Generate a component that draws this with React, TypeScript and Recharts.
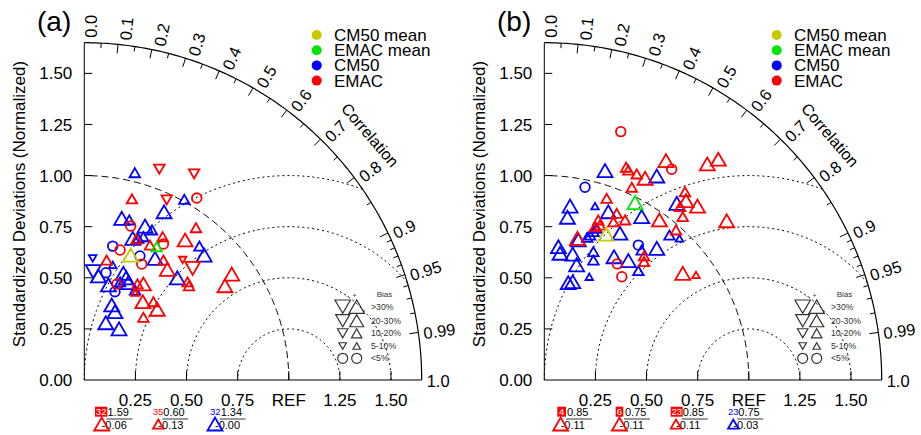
import React from 'react';
import { ScatterChart, Scatter, XAxis, YAxis } from 'recharts';

const FONT = '"Liberation Sans", Arial, Helvetica, sans-serif';
const RMAX = 1.65;
const RED = '#ff0000';
const BLUE = '#0000ff';
const YEL = '#c9c900';
const GRN = '#00e600';

type Pt = [number, number, string, string]; // x, y, marker (u/d/o), size (L/M/S/C)

// ---------- panel (a) ----------
const aCM50: Pt[] = [
  [0.247, 1.014, 'u', 'M'], [0.489, 0.884, 'u', 'M'], [0.39, 0.823, 'u', 'L'], [0.183, 0.791, 'u', 'L'],
  [0.22, 0.783, 'u', 'M'], [0.297, 0.753, 'u', 'L'], [0.331, 0.734, 'u', 'M'], [0.237, 0.693, 'u', 'L'],
  [0.264, 0.693, 'u', 'M'], [0.289, 0.701, 'u', 'M'], [0.139, 0.655, 'o', 'C'], [0.272, 0.607, 'o', 'C'],
  [0.346, 0.595, 'u', 'L'], [0.563, 0.655, 'u', 'M'], [0.586, 0.611, 'u', 'L'], [0.455, 0.5, 'u', 'L'],
  [0.041, 0.595, 'd', 'S'], [0.044, 0.53, 'd', 'L'], [0.069, 0.509, 'u', 'L'], [0.106, 0.525, 'o', 'C'],
  [0.139, 0.563, 'u', 'S'], [0.118, 0.465, 'u', 'L'], [0.15, 0.432, 'o', 'C'], [0.191, 0.522, 'u', 'L'],
  [0.215, 0.476, 'u', 'L'], [0.248, 0.44, 'u', 'M'], [0.175, 0.48, 'u', 'M'], [0.205, 0.5, 'u', 'L'],
  [0.134, 0.367, 'u', 'L'], [0.15, 0.334, 'u', 'L'], [0.105, 0.28, 'u', 'L'], [0.17, 0.25, 'u', 'L'],
];
const aEMAC: Pt[] = [
  [0.367, 1.031, 'd', 'M'], [0.537, 1.008, 'd', 'M'], [0.233, 0.886, 'u', 'M'], [0.403, 0.881, 'd', 'M'],
  [0.55, 0.89, 'o', 'C'], [0.227, 0.753, 'o', 'C'], [0.546, 0.745, 'u', 'M'], [0.255, 0.69, 'u', 'M'],
  [0.383, 0.701, 'u', 'M'], [0.493, 0.685, 'u', 'L'], [0.321, 0.66, 'u', 'M'], [0.387, 0.665, 'o', 'C'],
  [0.175, 0.636, 'o', 'C'], [0.281, 0.567, 'o', 'C'], [0.387, 0.587, 'u', 'M'], [0.406, 0.541, 'u', 'L'],
  [0.481, 0.587, 'd', 'S'], [0.53, 0.546, 'd', 'L'], [0.721, 0.518, 'u', 'L'], [0.688, 0.461, 'u', 'L'],
  [0.512, 0.461, 'u', 'M'], [0.505, 0.48, 'u', 'M'], [0.109, 0.587, 'u', 'M'], [0.16, 0.47, 'o', 'C'],
  [0.248, 0.427, 'u', 'S'], [0.289, 0.47, 'u', 'L'], [0.26, 0.47, 'u', 'M'], [0.286, 0.383, 'u', 'L'],
  [0.338, 0.383, 'u', 'M'], [0.357, 0.346, 'u', 'L'], [0.289, 0.307, 'u', 'M'],
];
const aCM50Mean: Pt[] = [[0.227, 0.611, 'u', 'L']];
const aEMACMean: Pt[] = [[0.354, 0.652, 'u', 'M']];

// ---------- panel (b) ----------
const bCM50: Pt[] = [
  [0.297, 1.024, 'u', 'L'], [0.55, 0.998, 'u', 'L'], [0.199, 0.943, 'o', 'C'], [0.648, 0.864, 'u', 'L'],
  [0.126, 0.851, 'u', 'L'], [0.248, 0.851, 'u', 'S'], [0.313, 0.823, 'u', 'L'], [0.113, 0.796, 'u', 'L'],
  [0.476, 0.799, 'u', 'L'], [0.224, 0.709, 'u', 'M'], [0.241, 0.726, 'u', 'M'], [0.256, 0.742, 'u', 'M'],
  [0.21, 0.698, 'u', 'M'], [0.166, 0.685, 'u', 'L'], [0.37, 0.718, 'u', 'L'], [0.612, 0.709, 'u', 'M'],
  [0.661, 0.693, 'u', 'S'], [0.069, 0.652, 'u', 'L'], [0.077, 0.62, 'u', 'L'], [0.139, 0.616, 'u', 'L'],
  [0.24, 0.628, 'u', 'M'], [0.24, 0.587, 'u', 'M'], [0.158, 0.563, 'u', 'L'], [0.341, 0.603, 'u', 'L'],
  [0.411, 0.584, 'u', 'L'], [0.46, 0.66, 'o', 'C'], [0.476, 0.636, 'u', 'M'], [0.55, 0.644, 'u', 'L'],
  [0.46, 0.535, 'u', 'M'], [0.22, 0.505, 'u', 'S'], [0.117, 0.476, 'u', 'L'], [0.139, 0.481, 'u', 'L'],
];
const bEMAC: Pt[] = [
  [0.374, 1.215, 'o', 'C'], [0.595, 1.073, 'u', 'L'], [0.623, 1.031, 'o', 'C'], [0.797, 1.057, 'u', 'L'],
  [0.851, 1.08, 'u', 'L'], [0.4, 1.041, 'u', 'M'], [0.411, 1.027, 'u', 'M'], [0.452, 1.008, 'u', 'M'],
  [0.493, 0.987, 'u', 'L'], [0.428, 0.943, 'u', 'M'], [0.688, 0.921, 'u', 'M'], [0.693, 0.877, 'u', 'L'],
  [0.749, 0.851, 'u', 'L'], [0.664, 0.848, 'u', 'M'], [0.677, 0.799, 'u', 'M'], [0.892, 0.779, 'u', 'L'],
  [0.305, 0.889, 'u', 'M'], [0.354, 0.815, 'u', 'M'], [0.395, 0.783, 'u', 'M'], [0.338, 0.774, 'u', 'M'],
  [0.563, 0.783, 'u', 'L'], [0.264, 0.783, 'u', 'M'], [0.248, 0.75, 'u', 'M'], [0.272, 0.758, 'u', 'M'],
  [0.162, 0.693, 'u', 'L'], [0.644, 0.734, 'u', 'M'], [0.488, 0.607, 'u', 'M'], [0.488, 0.579, 'u', 'M'],
  [0.357, 0.568, 'o', 'C'], [0.379, 0.505, 'o', 'C'], [0.677, 0.522, 'u', 'L'], [0.742, 0.514, 'u', 'S'],
];
const bCM50Mean: Pt[] = [[0.302, 0.714, 'u', 'L']];
const bEMACMean: Pt[] = [[0.444, 0.868, 'u', 'L']];

// ---------- axes / labels ----------
const xTickVals = [0.25, 0.5, 0.75, 1, 1.25, 1.5];
const xTickLabels = ['0.25', '0.50', '0.75', 'REF', '1.25', '1.50'];
const yTickVals = [0, 0.25, 0.5, 0.75, 1, 1.25, 1.5];
const corrLabelVals = [0, 0.1, 0.2, 0.3, 0.4, 0.5, 0.6, 0.7, 0.8, 0.9, 0.95, 0.99, 1];
const corrLabelText = ['0.0', '0.1', '0.2', '0.3', '0.4', '0.5', '0.6', '0.7', '0.8', '0.9', '0.95', '0.99', '1.0'];
const corrMajor = [0.1, 0.2, 0.3, 0.4, 0.5, 0.6, 0.7, 0.8, 0.9, 0.95, 0.99];
const corrMinor = [0.05, 0.15, 0.25, 0.35, 0.45, 0.55, 0.65, 0.75, 0.85, 0.91, 0.92, 0.93, 0.94, 0.96, 0.97, 0.98];
const rmsRadii = [0.25, 0.5, 0.75, 1.0];
const legendNames = ['CM50 mean', 'EMAC mean', 'CM50', 'EMAC'];
const legendColors = [YEL, GRN, BLUE, RED];
const biasRows = ['>30%', '20-30%', '10-20%', '5-10%', '<5%'];
const biasSizes = [15.5, 14, 10.5, 7.5, 10];

type Note = { bx: number; bw: number; label: string; boxed: boolean; color: string; top: string; topX: number; bot: string; triX: number; size: string };
const aNotes: Note[] = [
  { bx: 95, bw: 12.3, label: '32', boxed: true, color: RED, top: '1.59', topX: 107.5, bot: '-0.06', triX: 101.7, size: 'L' },
  { bx: 152.7, bw: 10.6, label: '35', boxed: false, color: RED, top: '0.60', topX: 163.3, bot: '-0.13', triX: 158.3, size: 'M' },
  { bx: 210, bw: 10.6, label: '32', boxed: false, color: BLUE, top: '1.34', topX: 220.7, bot: '-0.00', triX: 215, size: 'L' },
];
const bNotes: Note[] = [
  { bx: 97.3, bw: 8.7, label: '4', boxed: true, color: RED, top: '0.85', topX: 107, bot: '-0.11', triX: 100.7, size: 'L' },
  { bx: 155.7, bw: 7.6, label: '6', boxed: true, color: RED, top: '0.75', topX: 165, bot: '-0.11', triX: 159.5, size: 'L' },
  { bx: 210.7, bw: 12, label: '23', boxed: true, color: RED, top: '0.85', topX: 222.7, bot: '-0.11', triX: 216, size: 'M' },
  { bx: 268, bw: 10.6, label: '23', boxed: false, color: BLUE, top: '0.75', topX: 278.3, bot: '-0.03', triX: 273.3, size: 'M' },
];

const SZ: Record<string, number> = { L: 15, M: 10.5, S: 7.5, C: 9.6 };

// ---------- helpers ----------
const clamp = (v: number) => Math.max(0, Math.min(RMAX, v));
function arcPts(cx: number, r: number, a0: number, a1: number, n = 140) {
  const out: { x: number; y: number }[] = [];
  for (let i = 0; i <= n; i++) {
    const a = ((a0 + ((a1 - a0) * i) / n) * Math.PI) / 180;
    out.push({ x: clamp(cx + r * Math.cos(a)), y: clamp(r * Math.sin(a)) });
  }
  return out;
}
function rmsStart(r: number) {
  // angle (deg) where the REF-centred circle meets the outer arc
  const c = (RMAX * RMAX - 1 - r * r) / (2 * r);
  if (c >= 1) return 0;
  return (Math.acos(c) * 180) / Math.PI;
}
const outerArc = arcPts(0, RMAX, 0, 90);
const refArc = arcPts(0, 1, 0, 90);
const rmsArcs = rmsRadii.map((r) => arcPts(1, r, rmsStart(r), 180));
const onArc = (c: number) => ({ x: clamp(RMAX * c), y: clamp(RMAX * Math.sqrt(Math.max(0, 1 - c * c))), c });
const corrTickData = [
  ...corrMajor.map((c) => ({ ...onArc(c), len: 9 })),
  ...corrMinor.map((c) => ({ ...onArc(c), len: 5 })),
];
const corrLabelData = corrLabelVals.map((c, i) => ({ ...onArc(c), t: corrLabelText[i] }));
const xTickData = xTickVals.map((v) => ({ x: v, y: 0 }));
const yTickData = yTickVals.filter((v) => v > 0).map((v) => ({ x: 0, y: v }));
const toObj = (p: Pt) => ({ x: p[0], y: p[1], m: p[2], s: p[3] });

function glyph(m: string, s: number, cx: number, cy: number, color: string, sw: number, key?: string) {
  if (m === 'o') return <circle key={key} cx={cx} cy={cy} r={s / 2} fill="none" stroke={color} strokeWidth={sw} />;
  const h = s * 0.866;
  const pts =
    m === 'u'
      ? `${cx - s / 2},${cy + h / 2} ${cx + s / 2},${cy + h / 2} ${cx},${cy - h / 2}`
      : `${cx - s / 2},${cy - h / 2} ${cx + s / 2},${cy - h / 2} ${cx},${cy + h / 2}`;
  return <polygon key={key} points={pts} fill="none" stroke={color} strokeWidth={sw} />;
}

const Empty = () => <g />;
const markerShape = (color: string) => (p: any) => glyph(p.payload.m, SZ[p.payload.s], p.cx, p.cy, color, 1.8);
const corrTickShape = (p: any) => {
  const th = Math.acos(p.payload.c);
  const len = p.payload.len;
  return <line x1={p.cx} y1={p.cy} x2={p.cx - Math.cos(th) * len} y2={p.cy + Math.sin(th) * len} stroke="#000" strokeWidth={1} />;
};
const corrLabelShape = (p: any) => {
  const th = Math.acos(p.payload.c);
  const perp = 1 + 6 * Math.sin(th);
  const tx = p.cx + Math.cos(th) * 5 + Math.sin(th) * perp;
  const ty = p.cy - Math.sin(th) * 5 + Math.cos(th) * perp;
  const deg = (th * 180) / Math.PI;
  return (
    <text x={tx} y={ty} dy="0.35em" textAnchor="start" fontSize={16.5} fontFamily={FONT} fill="#000" transform={`rotate(${-deg} ${tx} ${ty})`}>
      {p.payload.t}
    </text>
  );
};
const xTickShape = (p: any) => <line x1={p.cx} y1={p.cy} x2={p.cx} y2={p.cy - 9} stroke="#000" strokeWidth={1} />;
const yTickShape = (p: any) => <line x1={p.cx} y1={p.cy} x2={p.cx + 8} y2={p.cy} stroke="#000" strokeWidth={1} />;

function Overlay({ tag, notes }: { tag: string; notes: Note[] }) {
  return (
    <svg width={460} height={435} style={{ position: 'absolute', left: 0, top: 0, pointerEvents: 'none' }} fontFamily={FONT}>
      <text x={37} y={31} fontSize={28} fill="#000">{tag}</text>
      <text x={19} y={204} dy="0.35em" textAnchor="middle" fontSize={17} fill="#000" transform="rotate(-90 19 204)">
        Standardized Deviations (Normalized)
      </text>
      <text x={370} y={135} dy="0.35em" textAnchor="middle" fontSize={16} fill="#000" transform="rotate(49.4 370 135)">
        Correlation
      </text>
      {legendNames.map((n, i) => {
        const cy = 35 + i * 15.2;
        return (
          <g key={n}>
            <circle cx={316.7} cy={cy} r={5} fill={legendColors[i]} />
            <text x={334} y={cy + 6} fontSize={17} fill="#000">{n}</text>
          </g>
        );
      })}
      <text x={376.7} y={297} fontSize={8} fill="#333">Bias</text>
      <text x={346.5} y={297.5} fontSize={7} fill="#333">-</text>
      <text x={352.5} y={297.5} fontSize={7} fill="#333">+</text>
      {biasRows.map((r, i) => {
        const cy = [306.7, 320.7, 333.3, 346, 358.3][i];
        const s = biasSizes[i];
        return (
          <g key={r}>
            {i < 4 ? glyph('d', s, 342.7, cy, '#333', 1.2) : glyph('o', s, 342.7, cy, '#333', 1.2)}
            {i < 4 ? glyph('u', s, 356.7, cy, '#333', 1.2) : glyph('o', s, 356.7, cy, '#333', 1.2)}
            <text x={371} y={cy + 3} fontSize={8.7} fill="#333">{r}</text>
          </g>
        );
      })}
      {notes.map((n, i) => (
        <g key={i}>
          {n.boxed && <rect x={n.bx} y={406.7} width={n.bw} height={10} fill={n.color} />}
          <text x={n.bx + n.bw / 2} y={415.3} textAnchor="middle" fontSize={9.5} fill={n.boxed ? '#fff' : n.color}>{n.label}</text>
          <text x={n.topX} y={416} fontSize={11} fill="#000">{n.top}</text>
          <line x1={n.topX - 1} y1={419} x2={n.topX + 25} y2={419} stroke="#000" strokeWidth={0.8} />
          <text x={n.triX} y={428.5} fontSize={11} fill="#000">{n.bot}</text>
          {glyph('u', SZ[n.size], n.triX, 424, n.color, 1.8)}
        </g>
      ))}
    </svg>
  );
}

function Panel(props: { tag: string; cm50: Pt[]; emac: Pt[]; cm50Mean: Pt[]; emacMean: Pt[]; notes: Note[] }) {
  const { tag, cm50, emac, cm50Mean, emacMean, notes } = props;
  return (
    <div style={{ position: 'relative', width: 460, height: 435 }}>
      <ScatterChart width={460} height={435} margin={{ top: 42.7, right: 38.3, left: 0, bottom: 0 }}>
        <XAxis
          type="number"
          dataKey="x"
          domain={[0, RMAX]}
          ticks={xTickVals}
          interval={0}
          tickFormatter={(v: number) => xTickLabels[xTickVals.indexOf(v)] ?? ''}
          tickLine={false}
          tickSize={0}
          tickMargin={14}
          height={55}
          axisLine={{ stroke: '#000', strokeWidth: 1 }}
          tick={{ fill: '#000', fontSize: 17, fontFamily: FONT }}
        />
        <YAxis
          type="number"
          dataKey="y"
          domain={[0, RMAX]}
          ticks={yTickVals}
          interval={0}
          tickFormatter={(v: number) => v.toFixed(2)}
          tickLine={false}
          tickSize={0}
          tickMargin={12}
          width={84.3}
          axisLine={{ stroke: '#000', strokeWidth: 1 }}
          tick={{ fill: '#000', fontSize: 17, fontFamily: FONT }}
        />
        {rmsArcs.map((d, i) => (
          <Scatter key={'rms' + i} data={d} line={{ stroke: '#000', strokeWidth: 1, strokeDasharray: '2 3' }} lineType="joint" shape={Empty} isAnimationActive={false} legendType="none" />
        ))}
        <Scatter data={refArc} line={{ stroke: '#000', strokeWidth: 1, strokeDasharray: '7 4' }} lineType="joint" shape={Empty} isAnimationActive={false} legendType="none" />
        <Scatter data={outerArc} line={{ stroke: '#000', strokeWidth: 1.2 }} lineType="joint" shape={Empty} isAnimationActive={false} legendType="none" />
        <Scatter data={corrTickData} shape={corrTickShape} isAnimationActive={false} legendType="none" />
        <Scatter data={corrLabelData} shape={corrLabelShape} isAnimationActive={false} legendType="none" />
        <Scatter data={xTickData} shape={xTickShape} isAnimationActive={false} legendType="none" />
        <Scatter data={yTickData} shape={yTickShape} isAnimationActive={false} legendType="none" />
        <Scatter data={cm50.map(toObj)} shape={markerShape(BLUE)} isAnimationActive={false} legendType="none" />
        <Scatter data={emac.map(toObj)} shape={markerShape(RED)} isAnimationActive={false} legendType="none" />
        <Scatter data={cm50Mean.map(toObj)} shape={markerShape(YEL)} isAnimationActive={false} legendType="none" />
        <Scatter data={emacMean.map(toObj)} shape={markerShape(GRN)} isAnimationActive={false} legendType="none" />
      </ScatterChart>
      <Overlay tag={tag} notes={notes} />
    </div>
  );
}

export default function App() {
  return (
    <div style={{ position: 'absolute', left: 0, top: 0, width: 921, height: 435, background: '#fff', display: 'flex' }}>
      <Panel tag="(a)" cm50={aCM50} emac={aEMAC} cm50Mean={aCM50Mean} emacMean={aEMACMean} notes={aNotes} />
      <Panel tag="(b)" cm50={bCM50} emac={bEMAC} cm50Mean={bCM50Mean} emacMean={bEMACMean} notes={bNotes} />
    </div>
  );
}
